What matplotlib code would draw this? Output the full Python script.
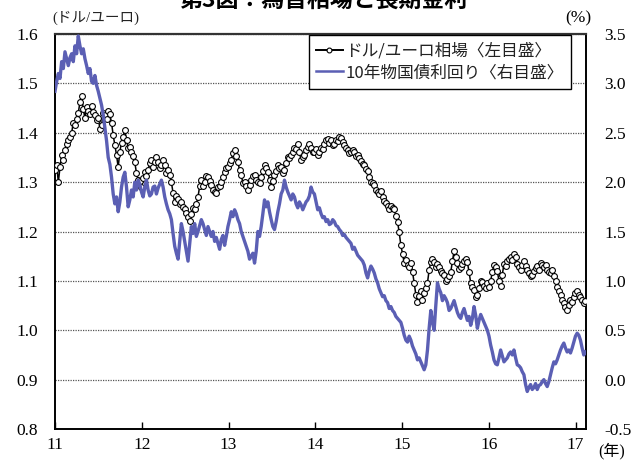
import numpy as np
import matplotlib
matplotlib.use('Agg')
import matplotlib.pyplot as plt
from matplotlib.lines import Line2D
from matplotlib import font_manager as fm

# ---- data (weekly readings from the chart) ----
usd_eur = [
    1.325, 1.335, 1.300, 1.330, 1.355, 1.345, 1.365, 1.378, 1.385, 1.392, 1.400, 1.420, 1.415, 1.428, 1.440, 1.462,
    1.475, 1.448, 1.430, 1.452, 1.445, 1.438, 1.455, 1.442, 1.435, 1.425, 1.430, 1.408, 1.415, 1.440, 1.435, 1.428,
    1.445, 1.438, 1.420, 1.395, 1.375, 1.355, 1.330, 1.362, 1.380, 1.392, 1.405, 1.385, 1.370, 1.372, 1.360, 1.352,
    1.340, 1.318, 1.305, 1.302, 1.290, 1.308, 1.320, 1.312, 1.325, 1.338, 1.345, 1.330, 1.340, 1.350, 1.340, 1.328,
    1.335, 1.345, 1.335, 1.318, 1.325, 1.315, 1.300, 1.278, 1.260, 1.272, 1.265, 1.255, 1.260, 1.250, 1.245, 1.238,
    1.230, 1.222, 1.235, 1.248, 1.245, 1.255, 1.270, 1.292, 1.305, 1.292, 1.300, 1.312, 1.310, 1.302, 1.295, 1.285,
    1.280, 1.278, 1.290, 1.292, 1.300, 1.310, 1.320, 1.328, 1.330, 1.338, 1.345, 1.358, 1.365, 1.352, 1.340, 1.325,
    1.315, 1.298, 1.300, 1.292, 1.285, 1.295, 1.305, 1.312, 1.315, 1.305, 1.300, 1.298, 1.310, 1.322, 1.335, 1.328,
    1.320, 1.305, 1.290, 1.302, 1.315, 1.322, 1.335, 1.328, 1.330, 1.318, 1.325, 1.338, 1.350, 1.348, 1.355, 1.362,
    1.370, 1.368, 1.378, 1.360, 1.345, 1.350, 1.355, 1.365, 1.372, 1.378, 1.370, 1.362, 1.362, 1.368, 1.355, 1.362,
    1.370, 1.368, 1.378, 1.385, 1.388, 1.380, 1.385, 1.376, 1.377, 1.385, 1.383, 1.392, 1.390, 1.382, 1.375, 1.370,
    1.365, 1.358, 1.362, 1.365, 1.360, 1.352, 1.355, 1.348, 1.342, 1.336, 1.335, 1.326, 1.322, 1.310, 1.300, 1.298,
    1.295, 1.285, 1.280, 1.275, 1.282, 1.270, 1.262, 1.258, 1.252, 1.245, 1.252, 1.248, 1.245, 1.232, 1.220, 1.198,
    1.172, 1.155, 1.136, 1.142, 1.132, 1.128, 1.136, 1.118, 1.096, 1.072, 1.058, 1.070, 1.080, 1.062, 1.075, 1.085,
    1.096, 1.122, 1.138, 1.145, 1.138, 1.128, 1.135, 1.128, 1.120, 1.115, 1.112, 1.100, 1.104, 1.110, 1.118, 1.140,
    1.160, 1.148, 1.136, 1.125, 1.128, 1.135, 1.140, 1.145, 1.138, 1.118, 1.096, 1.088, 1.082, 1.068, 1.072, 1.085,
    1.100, 1.098, 1.090, 1.085, 1.095, 1.088, 1.100, 1.118, 1.132, 1.128, 1.120, 1.100, 1.090, 1.112, 1.135, 1.130,
    1.140, 1.145, 1.148, 1.142, 1.155, 1.148, 1.135, 1.128, 1.122, 1.132, 1.140, 1.130, 1.122, 1.115, 1.110, 1.112,
    1.120, 1.126, 1.130, 1.122, 1.136, 1.132, 1.128, 1.132, 1.122, 1.118, 1.116, 1.122, 1.110, 1.100, 1.088, 1.080,
    1.072, 1.062, 1.055, 1.048, 1.042, 1.052, 1.062, 1.058, 1.068, 1.075, 1.080, 1.072, 1.068, 1.062, 1.055, 1.060,
]
bund_10y = [
    2.92, 3.02, 3.10, 3.05, 3.22, 3.15, 3.32, 3.25, 3.18, 3.26, 3.30, 3.22, 3.38, 3.30, 3.48, 3.38,
    3.30, 3.35, 3.25, 3.18, 3.10, 3.15, 3.02, 3.00, 3.08, 2.98, 2.92, 2.85, 2.78, 2.68, 2.55, 2.42,
    2.25, 2.18, 2.05, 1.88, 1.78, 1.85, 1.70, 1.80, 1.95, 2.05, 2.10, 1.95, 1.75, 1.82, 1.92, 1.85,
    2.00, 1.92, 2.02, 1.98, 1.90, 1.85, 1.95, 2.02, 1.92, 1.86, 1.88, 1.95, 1.96, 1.88, 1.94, 1.98,
    2.02, 1.95, 1.85, 1.78, 1.72, 1.68, 1.62, 1.48, 1.35, 1.28, 1.22, 1.40, 1.58, 1.50, 1.40, 1.30,
    1.20, 1.38, 1.55, 1.48, 1.58, 1.45, 1.50, 1.56, 1.62, 1.58, 1.52, 1.46, 1.55, 1.50, 1.45, 1.50,
    1.40, 1.44, 1.38, 1.32, 1.42, 1.46, 1.36, 1.45, 1.55, 1.62, 1.70, 1.65, 1.72, 1.68, 1.62, 1.58,
    1.50, 1.45, 1.40, 1.35, 1.30, 1.22, 1.25, 1.28, 1.18, 1.30, 1.50, 1.45, 1.55, 1.68, 1.82, 1.75,
    1.80, 1.70, 1.62, 1.55, 1.52, 1.60, 1.70, 1.78, 1.88, 1.92, 2.02, 1.95, 1.90, 1.86, 1.82, 1.88,
    1.85, 1.78, 1.74, 1.80, 1.77, 1.72, 1.76, 1.80, 1.82, 1.86, 1.95, 1.90, 1.88, 1.80, 1.72, 1.74,
    1.68, 1.64, 1.65, 1.60, 1.62, 1.57, 1.58, 1.62, 1.60, 1.56, 1.55, 1.52, 1.50, 1.46, 1.47, 1.44,
    1.42, 1.40, 1.38, 1.32, 1.34, 1.30, 1.26, 1.24, 1.22, 1.20, 1.16, 1.08, 1.03, 1.10, 1.15, 1.12,
    1.08, 1.02, 0.98, 0.92, 0.88, 0.84, 0.85, 0.80, 0.78, 0.72, 0.74, 0.70, 0.68, 0.64, 0.62, 0.60,
    0.58, 0.52, 0.45, 0.40, 0.38, 0.44, 0.40, 0.34, 0.30, 0.26, 0.20, 0.22, 0.18, 0.14, 0.10, 0.15,
    0.30, 0.52, 0.70, 0.58, 0.50, 0.75, 0.98, 0.92, 0.88, 0.80, 0.85, 0.82, 0.78, 0.70, 0.72, 0.76,
    0.80, 0.74, 0.68, 0.64, 0.62, 0.68, 0.72, 0.66, 0.60, 0.64, 0.55, 0.62, 0.74, 0.65, 0.52, 0.60,
    0.66, 0.62, 0.58, 0.54, 0.50, 0.44, 0.35, 0.28, 0.20, 0.16, 0.15, 0.22, 0.30, 0.24, 0.18, 0.20,
    0.22, 0.26, 0.28, 0.25, 0.30, 0.22, 0.15, 0.14, 0.12, 0.08, 0.05, -0.05, -0.12, -0.08, -0.05, -0.10,
    -0.08, -0.04, -0.10, -0.06, -0.05, -0.02, 0.00, -0.04, -0.07, -0.02, 0.05, 0.12, 0.18, 0.16, 0.20, 0.25,
    0.30, 0.34, 0.37, 0.32, 0.28, 0.30, 0.27, 0.32, 0.38, 0.44, 0.47, 0.45, 0.40, 0.32, 0.25, 0.28,
]
start_year = 11.0
step_years = 7 / 365.25
dates = start_year + np.arange(len(usd_eur)) * step_years

x_ticks = [11, 12, 13, 14, 15, 16, 17]
x_labels = ['11', '12', '13', '14', '15', '16', '17']
left_ticks = [0.8, 0.9, 1.0, 1.1, 1.2, 1.3, 1.4, 1.5, 1.6]
left_labels = ['0.8', '0.9', '1.0', '1.1', '1.2', '1.3', '1.4', '1.5', '1.6']
right_ticks = [-0.5, 0.0, 0.5, 1.0, 1.5, 2.0, 2.5, 3.0, 3.5]
right_labels = ['-0.5', '0.0', '0.5', '1.0', '1.5', '2.0', '2.5', '3.0', '3.5']

label_fx = 'ドル/ユーロ相場〈左目盛〉'
label_yield = '10年物国債利回り〈右目盛〉'


def pick_font(names):
    for n in names:
        try:
            fm.findfont(fm.FontProperties(family=n), fallback_to_default=False)
            return n
        except Exception:
            pass
    return 'serif'


serif = pick_font(['Liberation Serif', 'Times New Roman', 'Nimbus Roman', 'DejaVu Serif'])
plt.rcParams['font.family'] = [serif, 'Noto Sans CJK JP']

W, H = 636, 461
fig = plt.figure(figsize=(W / 100, H / 100), dpi=100)
ax = fig.add_axes([55 / W, 1 - 429 / H, (586 - 55) / W, (429 - 34) / H])
ax2 = ax.twinx()

blue = '#5b5fb4'
ax.plot(dates, usd_eur, color='black', lw=1.1, marker='o', ms=4.2,
        mfc='white', mec='black', mew=0.8, zorder=3)
ax2.plot(dates, bund_10y, color=blue, lw=2.4, zorder=3)

ax.set_xlim(11, 17.12)
ax.set_ylim(0.8, 1.6)
ax2.set_ylim(-0.5, 3.5)

ax.set_xticks(x_ticks)
ax.set_xticklabels(x_labels)
ax.set_yticks(left_ticks)
ax.set_yticklabels(left_labels)
ax2.set_yticks(right_ticks)
ax2.set_yticklabels(right_labels)

ax.yaxis.grid(True, linestyle=(0, (1, 1)), color='#555555', lw=0.9)
ax.set_axisbelow(True)

ax.tick_params(axis='x', direction='in', length=5, width=1, pad=5.5, labelsize=12.5)
ax.tick_params(axis='y', length=0, pad=12, labelsize=12.5)
ax2.tick_params(axis='y', length=0, pad=13, labelsize=12.5)

for s in ['left', 'right', 'bottom']:
    ax.spines[s].set_linewidth(1.4)
    ax.spines[s].set_color('black')
ax.spines['top'].set_linestyle((0, (1, 1)))
ax.spines['top'].set_linewidth(1.6)
ax.spines['top'].set_color('#333333')
for s in ax2.spines.values():
    s.set_visible(False)

handles = [
    Line2D([], [], color='black', lw=1.4, marker='o', ms=3.5, mfc='white', mec='black', mew=0.8),
    Line2D([], [], color=blue, lw=1.8),
]
leg = ax2.legend(handles, [label_fx, label_yield], loc='upper right',
                 bbox_to_anchor=(571 / W, 1 - 35 / H), bbox_transform=fig.transFigure,
                 fancybox=False, frameon=True, edgecolor='black', framealpha=1,
                 fontsize=12, handlelength=1.6, handletextpad=0.15, labelspacing=0.28,
                 borderpad=0.45, borderaxespad=0)
leg.get_frame().set_linewidth(1.0)
for t in leg.get_texts():
    t.set_fontfamily(['Noto Sans CJK JP'])
    t.set_color('#222222')

fig.text(52 / W, 1 - 18 / H, '(ドル/ユーロ)', ha='left', va='center', fontsize=10.5, color='#222222')
fig.text(565 / W, 1 - 18 / H, '(%)', ha='left', va='center', fontsize=12.5)
fig.text(598 / W, 1 - 451 / H, '(年)', ha='left', va='center', fontsize=11.5)
fig.text(324 / W, 1 - 1 / H, '第3図：為替相場と長期金利', ha='center', va='center',
         fontsize=16.5, fontweight='bold', family=['Noto Sans CJK JP'])

fig.savefig('out.png', dpi=100)
